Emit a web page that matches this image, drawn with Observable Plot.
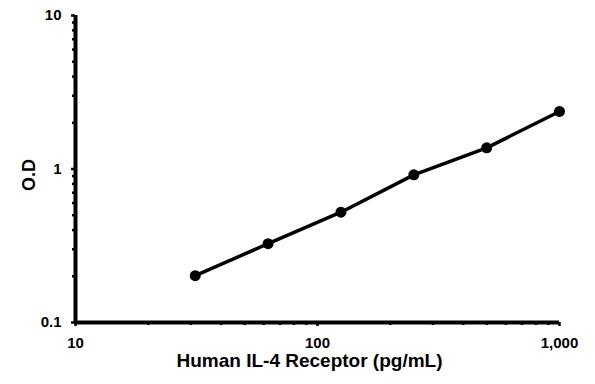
<!DOCTYPE html>
<html>
<head>
<meta charset="utf-8">
<script src="https://cdn.jsdelivr.net/npm/d3@7"></script>
<script src="https://cdn.jsdelivr.net/npm/@observablehq/plot@0.6"></script>
<style>
  html, body { margin: 0; padding: 0; background: #fff; }
</style>
</head>
<body>
<div id="chart"></div>
<script>
const concentration = [31.25, 62.5, 125, 250, 500, 1000];
const od = [0.202, 0.326, 0.523, 0.916, 1.374, 2.37];
const xMajorTicks = [10, 100, 1000];
const xMinorTicks = [20, 30, 40, 50, 60, 70, 80, 90, 200, 300, 400, 500, 600, 700, 800, 900];
const yMajorTicks = [0.1, 1, 10];
const yMinorTicks = [0.2, 0.3, 0.4, 0.5, 0.6, 0.7, 0.8, 0.9, 2, 3, 4, 5, 6, 7, 8, 9];
const xTitle = "Human IL-4 Receptor (pg/mL)";
const yTitle = "O.D";

const data = concentration.map((c, i) => ({c, od: od[i]}));
const font = "'Liberation Sans', Arial, sans-serif";

const chart = Plot.plot({
  width: 595,
  height: 384,
  marginLeft: 75,
  marginRight: 36,
  marginTop: 15,
  marginBottom: 62,
  style: {fontFamily: font, fontWeight: "bold", color: "black", background: "white", overflow: "visible"},
  x: {type: "log", domain: [10, 1000]},
  y: {type: "log", domain: [0.1, 10]},
  marks: [
    Plot.axisX(xMinorTicks, {tickSize: 3, strokeWidth: 2.5, text: null, label: null}),
    Plot.axisX(xMajorTicks, {tickSize: 4, strokeWidth: 2.5, tickPadding: 11, fontSize: 15, fontWeight: "bold", tickFormat: d3.format(","), label: null}),
    Plot.axisY(yMinorTicks, {tickSize: 3, strokeWidth: 2.5, text: null, label: null}),
    Plot.axisY(yMajorTicks, {tickSize: 4, strokeWidth: 2.5, tickPadding: 10, fontSize: 15, fontWeight: "bold", tickFormat: d => String(d), label: null}),
    Plot.ruleY([0.1], {strokeWidth: 4}),
    Plot.ruleX([10], {strokeWidth: 4, y1: 0.1, y2: 10}),
    Plot.line(data, {x: "c", y: "od", stroke: "black", strokeWidth: 3.5}),
    Plot.dot(data, {x: "c", y: "od", r: 5.5, fill: "black", stroke: null}),
    Plot.text([xTitle], {frameAnchor: "bottom", dy: 38, dx: -8, fontSize: 19, fontWeight: "bold", lineAnchor: "middle", fill: "black"}),
    Plot.text([yTitle], {frameAnchor: "left", dx: -46, dy: 22, rotate: -90, fontSize: 18, fontWeight: "bold", lineAnchor: "middle", fill: "black"})
  ]
});
document.getElementById("chart").appendChild(chart);
</script>
</body>
</html>
